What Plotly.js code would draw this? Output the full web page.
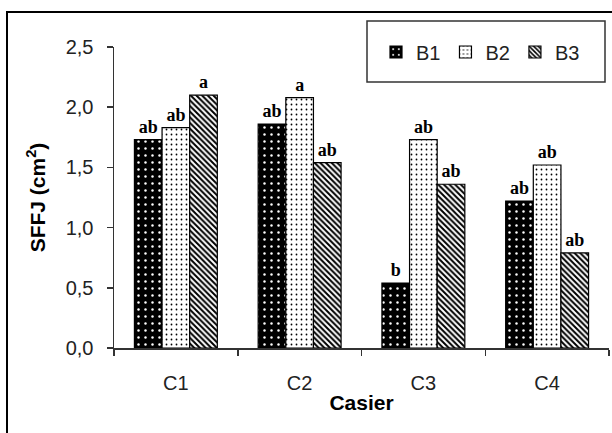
<!DOCTYPE html>
<html>
<head>
<meta charset="utf-8">
<script src="https://cdn.plot.ly/plotly-3.0.1.min.js"></script>
<style>
  html, body { margin: 0; padding: 0; background: #fff; }
  #wrap { position: relative; width: 612px; height: 433px; overflow: hidden; }
  #chart { width: 612px; height: 433px; }
  #frame { position: absolute; left: 6px; top: 11px; width: 620px; height: 440px;
           border-left: 2px solid #000; border-top: 2px solid #000; pointer-events: none; }
</style>
</head>
<body>
<div id="wrap"><div id="chart"></div><div id="frame"></div></div>
<script>
const categories = ['C1', 'C2', 'C3', 'C4'];
const seriesNames = ['B1', 'B2', 'B3'];
const B1 = [1.73, 1.86, 0.54, 1.22];
const B2 = [1.83, 2.08, 1.73, 1.52];
const B3 = [2.10, 1.54, 1.36, 0.79];
const B1_letters = ['ab', 'ab', 'b', 'ab'];
const B2_letters = ['ab', 'a', 'ab', 'ab'];
const B3_letters = ['a', 'ab', 'ab', 'ab'];
const yTicks = [0, 0.5, 1.0, 1.5, 2.0, 2.5];

const values = [B1, B2, B3];
const letters = [B1_letters, B2_letters, B3_letters];
const patterns = [
  {shape: '.', bgcolor: '#000', fgcolor: '#fff', size: 7, solidity: 0.1, fillmode: 'replace'},
  {shape: '.', bgcolor: '#fff', fgcolor: '#000', size: 5, solidity: 0.1, fillmode: 'replace'},
  {shape: '\\', bgcolor: '#fff', fgcolor: '#000', size: 4, solidity: 0.5, fillmode: 'replace'}
];
const fills = ['#000', '#fff', '#fff'];

const traces = seriesNames.map((name, i) => ({
  type: 'bar',
  name: name,
  x: categories,
  y: values[i],
  text: letters[i].map(t => '<b>' + t + '</b>'),
  textposition: 'outside',
  textfont: {family: 'Liberation Serif, Times New Roman, serif', size: 18, color: '#000'},
  cliponaxis: false,
  marker: {color: fills[i], line: {color: '#000', width: 1.2}, pattern: patterns[i]},
  hoverinfo: 'skip'
}));

const PL = 114, PR = 609, PT = 47, PB = 348;
const px = v => (v - PL) / (PR - PL);
const py = v => (PB - v) / (PB - PT);

const layout = {
  width: 612, height: 433,
  margin: {l: PL, r: 612 - PR, t: PT, b: 433 - PB},
  paper_bgcolor: '#fff', plot_bgcolor: '#fff',
  separators: ',.',
  font: {family: 'Liberation Sans, Arial, sans-serif', size: 20, color: '#222'},
  barmode: 'group', bargap: 0.33, bargroupgap: 0,
  showlegend: true,
  legend: {
    orientation: 'h', x: px(376), xanchor: 'left', y: py(52), yanchor: 'middle',
    borderwidth: 0, bgcolor: 'rgba(0,0,0,0)',
    font: {family: 'Liberation Sans, Arial, sans-serif', size: 20, color: '#222'},
    itemwidth: 30, traceorder: 'normal'
  },
  shapes: [{
    type: 'rect', xref: 'paper', yref: 'paper',
    x0: px(367), x1: px(605), y0: py(82), y1: py(21),
    line: {color: '#333', width: 1.5}, fillcolor: 'rgba(0,0,0,0)', layer: 'below'
  }],
  xaxis: {
    type: 'category', showline: true, linecolor: '#333', linewidth: 1.5,
    ticks: 'outside', ticklen: 6, tickcolor: '#333', tickwidth: 1.5,
    tickson: 'boundaries', showgrid: false, zeroline: false,
    ticklabelstandoff: 16,
    tickfont: {size: 20, color: '#222'},
    title: {text: '<b>Casier</b>', font: {size: 21, color: '#000'}, standoff: 3}
  },
  yaxis: {
    range: [0, 2.5], tickvals: yTicks, tickformat: '.1f',
    showline: true, linecolor: '#333', linewidth: 1.5,
    ticks: 'outside', ticklen: 6, tickcolor: '#333', tickwidth: 1.5,
    showgrid: false, zeroline: false,
    ticklabelstandoff: 9,
    tickfont: {size: 20, color: '#222'},
    title: {text: '<b>SFFJ (cm<sup>2</sup>)</b>', font: {size: 21, color: '#000'}, standoff: 14}
  }
};

Plotly.newPlot('chart', traces, layout, {staticPlot: true, displayModeBar: false});
</script>
</body>
</html>
